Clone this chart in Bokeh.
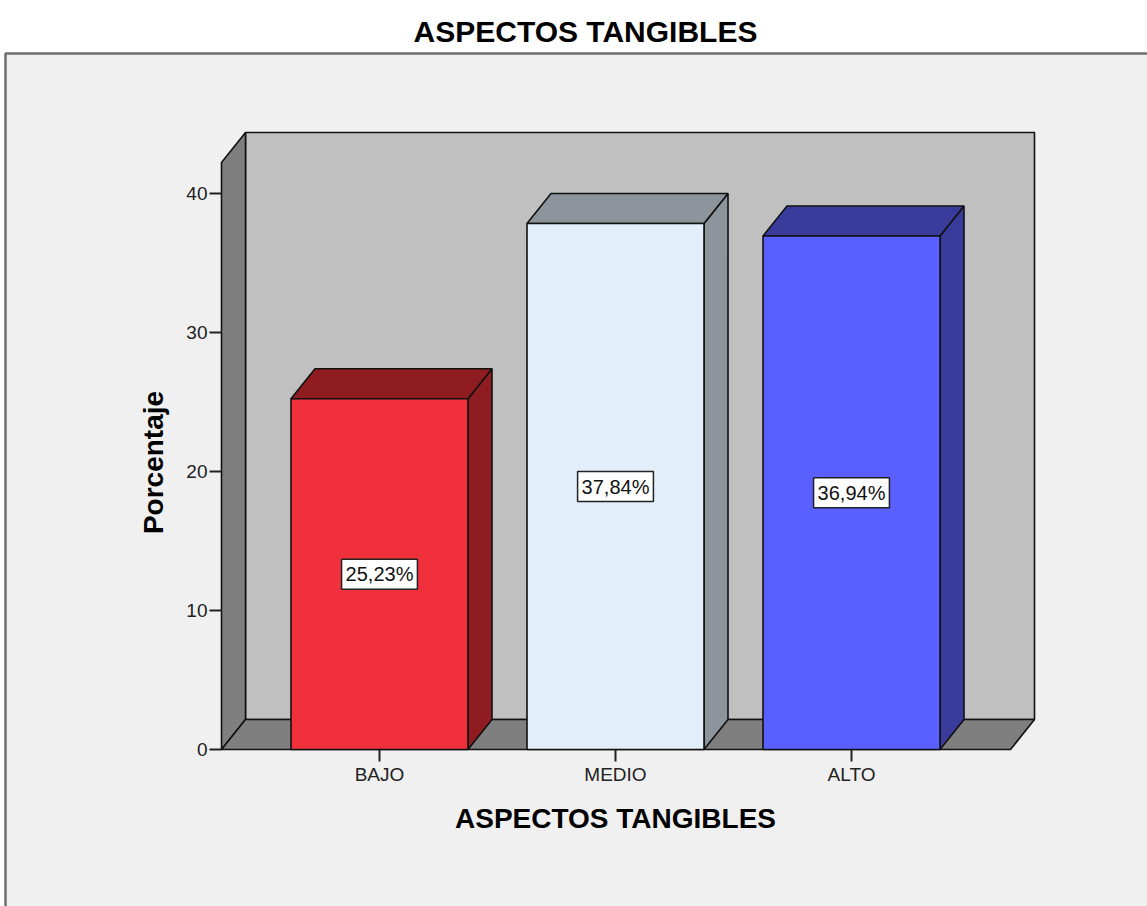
from math import pi

from bokeh.plotting import figure
from bokeh.models import Range1d, FixedTicker, Label
from bokeh.embed import file_html
from bokeh.resources import INLINE

# ---- data -------------------------------------------------------------
categories = ["BAJO", "MEDIO", "ALTO"]
percentages = [25.23, 37.84, 36.94]
y_ticks = [0, 10, 20, 30, 40]
chart_title = "ASPECTOS TANGIBLES"
x_title = "ASPECTOS TANGIBLES"
y_title = "Porcentaje"

face_colors = ["#F0313B", "#E2EEFA", "#5A60FF"]
shade_colors = ["#8E1C21", "#8D949C", "#3A3C9C"]

# ---- layout (pixels) --------------------------------------------------
W, H = 1147, 906
PX_X = 236.0      # pixels per category step
PX_Y = 13.9       # pixels per percentage point
X0_PX = 379       # first category centre
Y0_PX = 749       # zero line


def X(px):
    """canvas pixel column -> x data value"""
    return (px - X0_PX) / PX_X


def Y(py):
    """canvas pixel row -> y data value"""
    return (Y0_PX - py) / PX_Y


DX = 24 / PX_X            # 3-D depth offset, horizontal
DY = 30 / PX_Y            # 3-D depth offset, vertical
HALF = 0.375              # half bar width (category units)
WALL_L, WALL_R, WALL_TOP = X(221), X(1010), Y(162)

FONT = "Liberation Sans"
EDGE = dict(line_color="#111111", line_width=1.6)

p = figure(
    width=W, height=H,
    x_range=Range1d(X(0), X(W)), y_range=Range1d(Y(H), Y(0)),
    output_backend="svg", toolbar_location=None,
    min_border=0, background_fill_color="white", border_fill_color="white",
    outline_line_color=None,
)
p.grid.visible = False

# framed panel behind the chart
p.quad(left=[X(5)], right=[X(W + 40)], top=[Y(53)], bottom=[Y(H + 40)],
       fill_color="#F0F0F0", line_color="#6E6E6E", line_width=2.5)

# 3-D box: back wall, left wall, floor
p.quad(left=[WALL_L + DX], right=[WALL_R + DX], bottom=[DY], top=[WALL_TOP + DY],
       fill_color="#C0C0C0", **EDGE)
p.patch([WALL_L, WALL_L, WALL_L + DX, WALL_L + DX],
        [0, WALL_TOP, WALL_TOP + DY, DY], fill_color="#7F7F7F", **EDGE)
p.patch([WALL_L, WALL_R, WALL_R + DX, WALL_L + DX],
        [0, 0, DY, DY], fill_color="#7F7F7F", **EDGE)

# bars
for i, (v, face, shade) in enumerate(zip(percentages, face_colors, shade_colors)):
    l, r = i - HALF, i + HALF
    p.patch([r, r + DX, r + DX, r], [0, DY, v + DY, v], fill_color=shade, **EDGE)
    p.patch([l, r, r + DX, l + DX], [v, v, v + DY, v + DY], fill_color=shade, **EDGE)
    p.quad(left=[l], right=[r], bottom=[0], top=[v], fill_color=face, **EDGE)
    p.add_layout(Label(
        x=i, y=v / 2, text=f"{v:.2f}".replace(".", ",") + "%",
        text_align="center", text_baseline="middle",
        text_font=FONT, text_font_size="20px", text_color="#111111",
        background_fill_color="white", border_line_color="#222222",
        border_line_width=1.5, padding=4,
    ))

# axes, pinned to the front edges of the box
p.yaxis.fixed_location = WALL_L
p.xaxis.fixed_location = 0
p.yaxis.ticker = FixedTicker(ticks=y_ticks)
p.xaxis.ticker = FixedTicker(ticks=list(range(len(categories))))
p.xaxis.major_label_overrides = {i: c for i, c in enumerate(categories)}
for ax in (p.xaxis, p.yaxis):
    ax.axis_line_color = None
    ax.major_tick_in = 0
    ax.major_tick_out = 12
    ax.major_tick_line_width = 2
    ax.major_tick_line_color = "#222222"
    ax.minor_tick_line_color = None
    ax.major_label_text_font = FONT
    ax.major_label_text_font_size = "19px"
    ax.major_label_text_color = "#222222"
    ax.major_label_standoff = 2

# titles
p.add_layout(Label(x=X(585), y=Y(31), text=chart_title,
                   text_align="center", text_baseline="middle",
                   text_font=FONT, text_font_size="30px", text_font_style="bold",
                   text_color="black"))
p.add_layout(Label(x=X(615), y=Y(818), text=x_title,
                   text_align="center", text_baseline="middle",
                   text_font=FONT, text_font_size="28px", text_font_style="bold",
                   text_color="black"))
p.add_layout(Label(x=X(153), y=Y(462), angle=pi / 2, text=y_title,
                   text_align="center", text_baseline="middle",
                   text_font=FONT, text_font_size="28px", text_font_style="bold",
                   text_color="black"))

open("out.html", "w").write(file_html(p, INLINE))
